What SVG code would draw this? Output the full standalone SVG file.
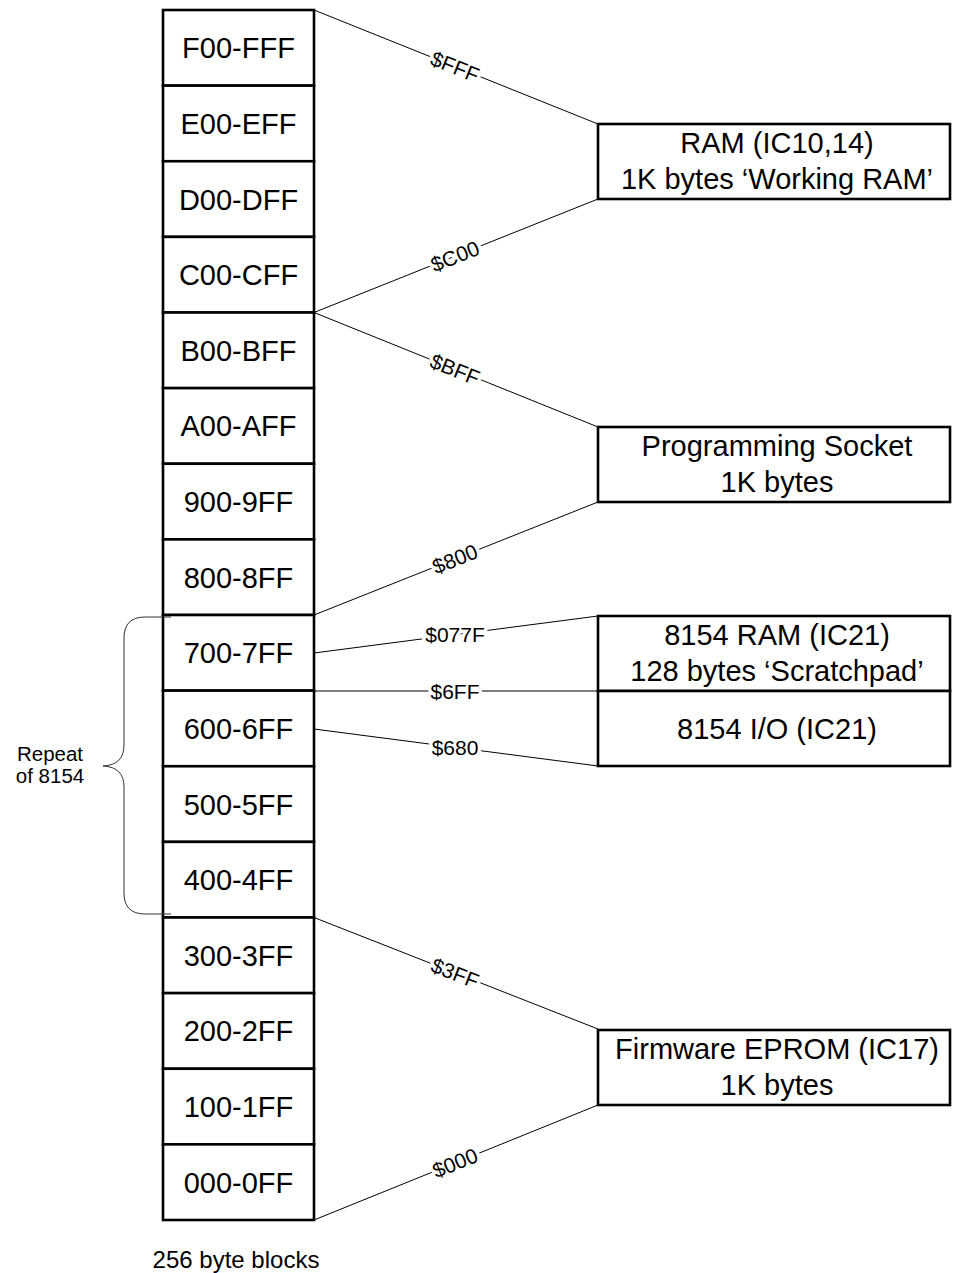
<svg xmlns="http://www.w3.org/2000/svg" width="953" height="1273" viewBox="0 0 953 1273">
<style>
  text { font-family: "Liberation Sans", Arial, sans-serif; fill: #000; }
  .blk { fill: #fff; stroke: #000; stroke-width: 2.6; }
  .lbl { font-size: 29px; text-anchor: middle; }
  .addr { font-size: 21px; text-anchor: middle; stroke: #fff; stroke-width: 7; paint-order: stroke; stroke-linejoin: round; }
  .conn { stroke: #000; stroke-width: 1; fill: none; }
  .note { font-size: 20.5px; text-anchor: middle; }
</style>
<rect width="953" height="1273" fill="#fff"/>

<g id="connectors">
  <line class="conn" x1="314" y1="10" x2="598" y2="124"/>
  <line class="conn" x1="314" y1="312.5" x2="598" y2="199"/>
  <line class="conn" x1="314" y1="312.5" x2="598" y2="427"/>
  <line class="conn" x1="314" y1="615" x2="598" y2="502"/>
  <line class="conn" x1="314" y1="653" x2="598" y2="616"/>
  <line class="conn" x1="314" y1="691" x2="598" y2="691"/>
  <line class="conn" x1="314" y1="729" x2="598" y2="766"/>
  <line class="conn" x1="314" y1="917.5" x2="598" y2="1029"/>
  <line class="conn" x1="314" y1="1220" x2="598" y2="1105"/>
  <g transform="translate(455,66.6) rotate(21.9)"><text class="addr" x="0" y="7.5">$FFF</text></g>
  <g transform="translate(455,256.2) rotate(-21.8)"><text class="addr" x="0" y="7.5">$C00</text></g>
  <g transform="translate(455,369.3) rotate(22)"><text class="addr" x="0" y="7.5">$BFF</text></g>
  <g transform="translate(455,558.9) rotate(-21.7)"><text class="addr" x="0" y="7.5">$800</text></g>
  <text class="addr" x="455" y="642">$077F</text>
  <text class="addr" x="455" y="698.5">$6FF</text>
  <text class="addr" x="455" y="755">$680</text>
  <g transform="translate(455,972.9) rotate(21.4)"><text class="addr" x="0" y="7.5">$3FF</text></g>
  <g transform="translate(455,1162.9) rotate(-22)"><text class="addr" x="0" y="7.5">$000</text></g>
</g>

<g id="blk-F"><rect class="blk" x="163" y="10" width="151" height="75.625"/><text class="lbl" x="238.5" y="58.2">F00-FFF</text></g>
<g id="blk-E"><rect class="blk" x="163" y="85.625" width="151" height="75.625"/><text class="lbl" x="238.5" y="133.8">E00-EFF</text></g>
<g id="blk-D"><rect class="blk" x="163" y="161.25" width="151" height="75.625"/><text class="lbl" x="238.5" y="209.5">D00-DFF</text></g>
<g id="blk-C"><rect class="blk" x="163" y="236.875" width="151" height="75.625"/><text class="lbl" x="238.5" y="285.1">C00-CFF</text></g>
<g id="blk-B"><rect class="blk" x="163" y="312.5" width="151" height="75.625"/><text class="lbl" x="238.5" y="360.7">B00-BFF</text></g>
<g id="blk-A"><rect class="blk" x="163" y="388.125" width="151" height="75.625"/><text class="lbl" x="238.5" y="436.3">A00-AFF</text></g>
<g id="blk-9"><rect class="blk" x="163" y="463.75" width="151" height="75.625"/><text class="lbl" x="238.5" y="512">900-9FF</text></g>
<g id="blk-8"><rect class="blk" x="163" y="539.375" width="151" height="75.625"/><text class="lbl" x="238.5" y="587.6">800-8FF</text></g>
<g id="blk-7"><rect class="blk" x="163" y="615" width="151" height="75.625"/><text class="lbl" x="238.5" y="663.2">700-7FF</text></g>
<g id="blk-6"><rect class="blk" x="163" y="690.625" width="151" height="75.625"/><text class="lbl" x="238.5" y="738.8">600-6FF</text></g>
<g id="blk-5"><rect class="blk" x="163" y="766.25" width="151" height="75.625"/><text class="lbl" x="238.5" y="814.5">500-5FF</text></g>
<g id="blk-4"><rect class="blk" x="163" y="841.875" width="151" height="75.625"/><text class="lbl" x="238.5" y="890.1">400-4FF</text></g>
<g id="blk-3"><rect class="blk" x="163" y="917.5" width="151" height="75.625"/><text class="lbl" x="238.5" y="965.7">300-3FF</text></g>
<g id="blk-2"><rect class="blk" x="163" y="993.125" width="151" height="75.625"/><text class="lbl" x="238.5" y="1041.3">200-2FF</text></g>
<g id="blk-1"><rect class="blk" x="163" y="1068.75" width="151" height="75.625"/><text class="lbl" x="238.5" y="1117">100-1FF</text></g>
<g id="blk-0"><rect class="blk" x="163" y="1144.375" width="151" height="75.625"/><text class="lbl" x="238.5" y="1192.6">000-0FF</text></g>

<g id="ram">
  <rect class="blk" x="598" y="124" width="352" height="75"/>
  <text class="lbl" x="777" y="153">RAM (IC10,14)</text>
  <text class="lbl" x="777" y="188.5">1K bytes ‘Working RAM’</text>
</g>
<g id="socket">
  <rect class="blk" x="598" y="427" width="352" height="75"/>
  <text class="lbl" x="777" y="456">Programming Socket</text>
  <text class="lbl" x="777" y="491.5">1K bytes</text>
</g>
<g id="ram8154">
  <rect class="blk" x="598" y="616" width="352" height="75"/>
  <text class="lbl" x="777" y="645">8154 RAM (IC21)</text>
  <text class="lbl" x="777" y="680.5">128 bytes ‘Scratchpad’</text>
</g>
<g id="io8154">
  <rect class="blk" x="598" y="691" width="352" height="75"/>
  <text class="lbl" x="777" y="738.5">8154 I/O (IC21)</text>
</g>
<g id="eprom">
  <rect class="blk" x="598" y="1030" width="352" height="75"/>
  <text class="lbl" x="777" y="1059">Firmware EPROM (IC17)</text>
  <text class="lbl" x="777" y="1094.5">1K bytes</text>
</g>

<g id="repeat">
  <path d="M171,617 L145,617 Q124,617 124,638 L124,745 Q124,765 103,766 Q124,767 124,787 L124,893 Q124,914 145,914 L171,914" fill="none" stroke="#333" stroke-width="1"/>
  <text class="note" x="50" y="761">Repeat</text>
  <text class="note" x="50" y="783">of 8154</text>
</g>

<text x="236" y="1268" font-size="24" text-anchor="middle">256 byte blocks</text>
</svg>
